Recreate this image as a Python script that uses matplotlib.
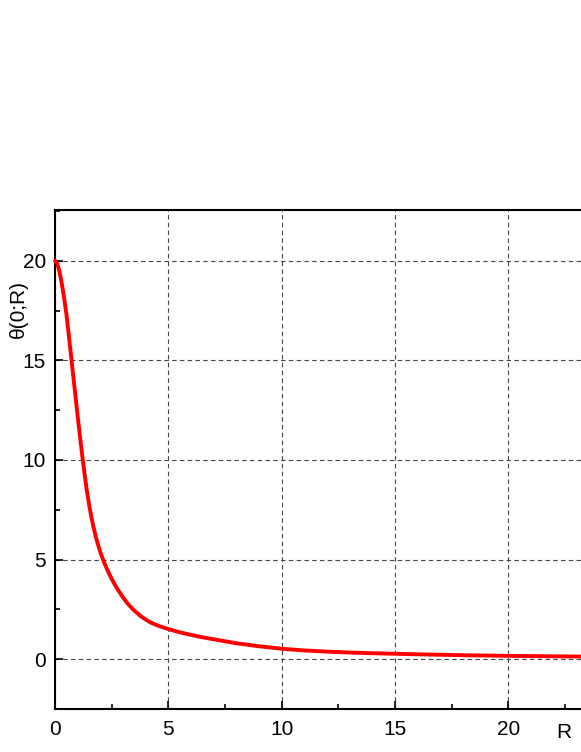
import matplotlib
matplotlib.use("Agg")
import matplotlib.pyplot as plt
from matplotlib.ticker import MultipleLocator

plt.rcParams['font.family'] = ['Liberation Sans', 'DejaVu Sans']

# valores
R = [0, 0.1, 0.2, 0.3, 0.4, 0.5, 0.6, 0.72, 0.84, 0.96, 1.09, 1.22, 1.31,
     1.4, 1.5, 1.6, 1.7, 1.8, 1.9, 2.0, 2.1, 2.2, 2.35, 2.5, 2.65, 2.8,
     3.0, 3.2, 3.45, 3.8, 4.2, 4.6, 5.0, 5.5, 6.0, 6.5, 7.0, 8.0, 9.0,
     10.0, 11.0, 12.0, 13.0, 14.0, 16.0, 18.0, 20.0, 22.0, 23.2]
theta = [20, 19.85, 19.45, 18.85, 18.15, 17.35, 16.35, 15.1, 13.86, 12.62,
         11.3, 10.05, 9.25, 8.5, 7.78, 7.16, 6.62, 6.15, 5.74, 5.38, 5.06,
         4.77, 4.38, 4.03, 3.72, 3.44, 3.1, 2.8, 2.49, 2.14, 1.85, 1.66,
         1.51, 1.35, 1.22, 1.1, 1.0, 0.8, 0.65, 0.525, 0.44, 0.38, 0.335,
         0.30, 0.245, 0.2, 0.168, 0.145, 0.133]

fig = plt.figure(figsize=(5.81, 7.52), dpi=100)
ax = fig.add_axes([55 / 581, 1 - 709 / 752, 1 - 55 / 581, (709 - 210) / 752])

ax.plot(R, theta, color="red", lw=2.8, solid_capstyle="round",
        solid_joinstyle="round", zorder=3, clip_on=False)

ax.set_xlim(0, 23.2)
ax.set_ylim(-2.5, 22.55)
ax.xaxis.set_major_locator(MultipleLocator(5))
ax.xaxis.set_minor_locator(MultipleLocator(2.5))
ax.yaxis.set_major_locator(MultipleLocator(5))
ax.yaxis.set_minor_locator(MultipleLocator(2.5))

ax.tick_params(which="both", direction="in", width=1.2, labelsize=15,
               top=False, right=False)
ax.tick_params(which="major", length=6)
ax.tick_params(which="minor", length=3.5)
ax.tick_params(axis="x", pad=8)
ax.tick_params(axis="y", pad=6.5)

ax.grid(True, which="major", linestyle=(0, (4, 3)), color="#444444", lw=0.8)
for s in ["left", "bottom", "top"]:
    ax.spines[s].set_linewidth(1.5)
ax.spines["right"].set_visible(False)

fig.text(18 / 581, 1 - 309 / 752, "θ(0;R)", rotation=90, ha="center",
         va="center", fontsize=15)
fig.text(564 / 581, 1 - 732 / 752, "R", ha="center", va="center", fontsize=15)

plt.savefig("out.png", dpi=100)
